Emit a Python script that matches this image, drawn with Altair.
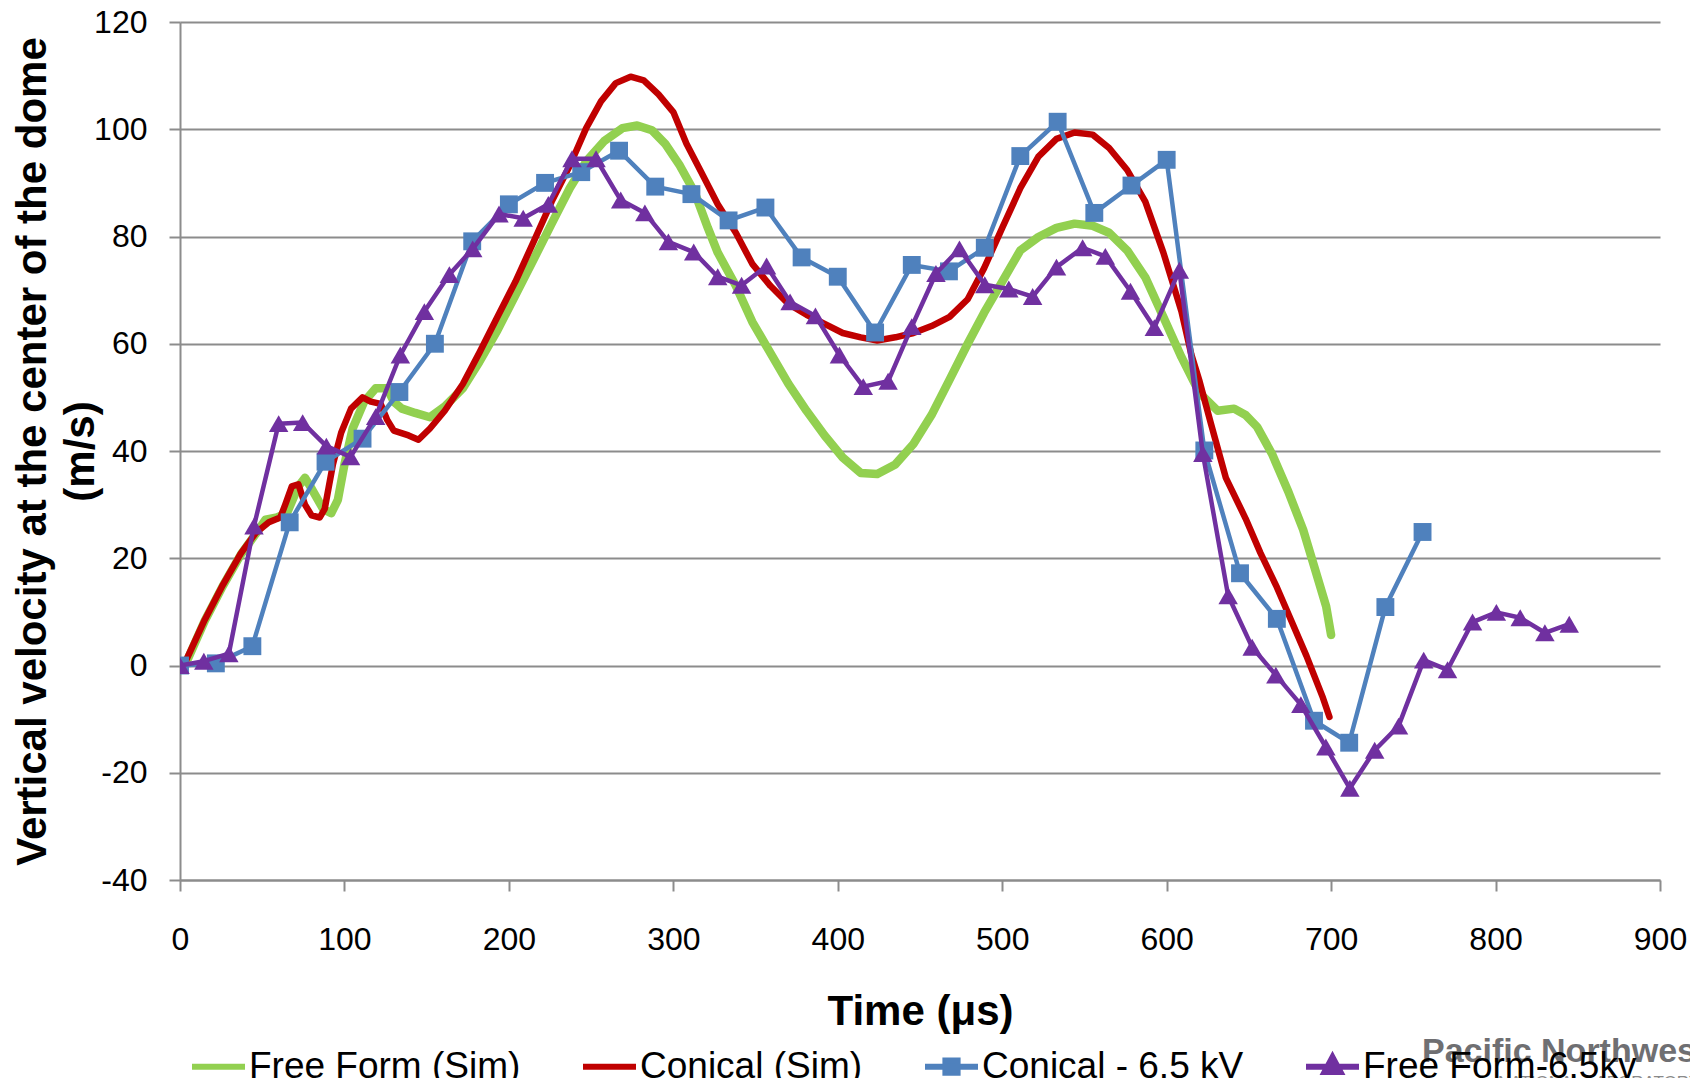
import altair as alt
import pandas as pd

# ---------------- data ----------------
series_names = ["Free Form (Sim)", "Conical (Sim)", "Conical - 6.5 kV", "Free Form-6.5kv"]
series_colors = ["#92D050", "#C00000", "#4F81BD", "#7030A0"]

ff_sim_t = [3, 15, 26, 37, 46, 52, 59, 65, 72, 76, 80, 87, 92, 96, 100, 105, 112, 119, 126, 130,
            135, 143, 152, 161, 172, 182, 193, 204, 215, 226, 237, 247, 258, 269, 278, 287, 295, 304, 313, 321,
            327, 338, 348, 359, 370, 381, 392, 403, 414, 424, 435, 446, 457, 468, 479, 489, 500, 511, 522, 533,
            544, 555, 565, 576, 587, 598, 609, 620, 631, 641, 648, 655, 664, 674, 683, 690, 697, 700]
ff_sim_v = [0, 8.3, 14.8, 20.7, 24.5, 27.2, 27.6, 28.4, 33.4, 35, 33, 29.2, 28.4, 30.9, 37.5, 44.2, 49.2, 51.7, 51.7, 49.2,
            47.9, 47.1, 46.3, 48.3, 51.7, 56.6, 62.5, 69.1, 75.7, 82.4, 89, 94, 97.8, 100.2, 100.7, 99.8, 97.3, 93.2, 88.2, 81.6,
            77, 70.8, 64.1, 58.3, 52.5, 47.5, 42.9, 38.8, 35.9, 35.7, 37.5, 41.3, 46.7, 53.3, 60, 65.8, 71.6, 77.4, 79.9, 81.6,
            82.4, 82, 80.7, 77.4, 72.4, 65, 57.5, 50.8, 47.5, 47.9, 46.7, 44.5, 39.5, 32.4, 25.3, 18.2, 11, 5.7]

con_sim_t = [3, 15, 26, 37, 46, 54, 61, 64, 68, 72, 76, 80, 85, 88, 93, 98, 104, 111, 116, 122,
             126, 130, 139, 145, 152, 161, 172, 182, 193, 204, 215, 226, 237, 247, 256, 265, 274, 282, 291, 300,
             308, 317, 327, 338, 348, 359, 370, 381, 392, 403, 414, 424, 435, 446, 457, 468, 479, 489, 500, 511,
             522, 533, 544, 555, 565, 576, 587, 598, 603, 609, 615, 620, 627, 636, 648, 657, 667, 676, 685, 695, 699]
con_sim_v = [0.5, 8.5, 15, 20.9, 24.7, 26.7, 27.6, 30, 33.4, 33.8, 30, 28, 27.6, 29.2, 37.5, 43.4, 47.9, 50, 49.2, 48.8,
             45.8, 43.8, 42.9, 42.1, 44.2, 47.5, 52.5, 58.3, 65, 71.6, 79, 86.5, 93.2, 100.2, 105.2, 108.6, 109.8, 109.1, 106.5, 103.2,
             97.3, 92, 86, 80.7, 74.9, 70.8, 67.4, 65.4, 63.7, 62, 61.2, 60.6, 61.2, 62, 63.3, 65, 68.3, 74.1, 81.6, 89,
             94.9, 98.2, 99.4, 99, 96.5, 92.4, 86.5, 77, 72, 66, 58, 53, 45, 35, 27.4, 21, 14.6, 8.2, 1.8, -6, -9.6]

con_exp_t = [0, 21.8, 44, 66.7, 88.5, 111, 133.4, 155, 177.7, 200, 222, 244, 267, 289, 311, 333.6, 356, 378, 400, 422.7,
             445, 467.6, 489.4, 511, 533.7, 556, 578.6, 600, 622.9, 644.6, 667, 689.6, 711, 733, 755.6]
con_exp_v = [0, 0.4, 3.6, 26.7, 38, 42.3, 51, 60, 79.1, 86, 90, 92, 96, 89.3, 87.9, 83, 85.4, 76.1, 72.5, 62.1,
             74.7, 73.5, 77.9, 95, 101.4, 84.4, 89.5, 94.3, 40.1, 17.2, 8.7, -10.3, -14.4, 10.9, 24.9]

ff_exp_t = [0, 14.5, 29.7, 45, 60, 74.6, 89, 103.7, 119, 134, 148.6, 163.8, 178, 194, 208.7, 224, 238.4, 253, 268, 282.7,
            297, 312.4, 327, 341.5, 356.7, 371, 386.4, 401, 415.5, 430.6, 445, 459.7, 474, 489.4, 504, 518.5, 533, 548.9, 562.7, 578,
            592.5, 607.7, 622, 637.4, 652, 666.4, 681.6, 696.8, 711.4, 726.5, 741, 756.3, 770.8, 786, 800.5, 815, 830, 844.8]
ff_exp_v = [0, 0.8, 2.2, 26, 45.1, 45.3, 40.9, 38.9, 46.4, 57.9, 66, 72.9, 77.7, 84.2, 83.4, 86, 94.5, 94.5, 86.8, 84.4,
            79, 77.1, 72.5, 70.9, 74.5, 67.8, 65.2, 57.9, 52, 53, 63.2, 73.1, 77.7, 71, 70.2, 68.8, 74.3, 77.9, 76.3, 69.8,
            63, 73.7, 39.5, 13, 3.4, -1.8, -7.3, -15.2, -22.9, -15.8, -11.3, 1, -0.8, 8.1, 9.9, 8.9, 6.1, 7.7]

x_ticks = list(range(0, 901, 100))
y_ticks = list(range(-40, 121, 20))
x_title = "Time (μs)"
y_title = ["Vertical velocity at the center of the dome", "(m/s)"]
logo_main = ["Pacific Northwest"]
logo_sub = ["NATIONAL LABORATORY"]

# ---------------- build ----------------
def frame(name, t, v):
    assert len(t) == len(v)
    return pd.DataFrame({"t": t, "v": v, "series": name})

df_ff_sim = frame(series_names[0], ff_sim_t, ff_sim_v)
df_con_sim = frame(series_names[1], con_sim_t, con_sim_v)
df_con_exp = frame(series_names[2], con_exp_t, con_exp_v)
df_ff_exp = frame(series_names[3], ff_exp_t, ff_exp_v)

FONT = "Liberation Sans"
GRID = "#8c8c8c"
W, H = 1480, 858

X = alt.X("t:Q", scale=alt.Scale(domain=[0, 900], nice=False, zero=False),
          axis=alt.Axis(values=x_ticks, grid=False, tickSize=11, tickWidth=2, tickColor=GRID,
                        domainColor=GRID, domainWidth=2, labelFont=FONT, labelFontSize=32,
                        labelColor="black", labelPadding=33, labelFlush=False, labelOverlap=False,
                        labelExpr="'' + datum.value",
                        title=x_title, titleFont=FONT, titleFontSize=42, titleFontWeight="bold",
                        titleColor="black", titleX=W / 2, titleY=144, titleAlign="center",
                        titleBaseline="alphabetic"))
Y = alt.Y("v:Q", scale=alt.Scale(domain=[-40, 120], nice=False, zero=False),
          axis=alt.Axis(values=y_ticks, grid=True, gridColor=GRID, gridWidth=2, tickSize=11,
                        tickWidth=2, tickColor=GRID, domainColor=GRID, domainWidth=2,
                        labelFont=FONT, labelFontSize=32, labelColor="black", labelPadding=22,
                        labelFlush=False, labelOverlap=False, labelExpr="'' + datum.value",
                        title=y_title, titleFont=FONT, titleFontSize=42, titleFontWeight="bold",
                        titleColor="black", titleAngle=270, titleX=-135, titleY=H / 2,
                        titleAlign="center", titleBaseline="alphabetic", titleLineHeight=48))

def line(df, color, width):
    return alt.Chart(df).mark_line(color=color, strokeWidth=width, strokeJoin="round",
                                   strokeCap="round", clip=True).encode(x=X, y=Y, order="t:Q")

def pts(df, color, shape, size):
    return alt.Chart(df).mark_point(color=color, shape=shape, size=size, filled=True,
                                    opacity=1, clip=True).encode(x=X, y=Y)

legend_paths = ["M-1,0H1", "M-1,0H1",
                "M-1,0H1M-0.23,-0.23H0.23V0.23H-0.23Z",
                "M-1,0H1M0,-0.36L0.3,0.2H-0.3Z"]
legend_df = pd.DataFrame({"t": [-100] * 4, "v": [0] * 4, "series": series_names})
leg = alt.Legend(orient="none", legendX=9, legendY=1015, direction="horizontal", title=None,
                 labelFont=FONT, labelFontSize=37, labelColor="black", symbolSize=2809,
                 symbolStrokeWidth=6, labelOffset=1, columnPadding=50, padding=0, offset=0,
                 columns=4, labelLimit=0, symbolOpacity=1)
legend_layer = alt.Chart(legend_df).mark_point(filled=True, opacity=1, clip=True).encode(
    x=X, y=Y,
    fill=alt.Fill("series:N", scale=alt.Scale(domain=series_names, range=series_colors), legend=leg),
    stroke=alt.Stroke("series:N", scale=alt.Scale(domain=series_names, range=series_colors), legend=leg),
    shape=alt.Shape("series:N", scale=alt.Scale(domain=series_names, range=legend_paths), legend=leg),
)

logo1 = alt.Chart(pd.DataFrame({"label": logo_main})).mark_text(
    font=FONT, fontSize=34, fontWeight="bold", color="#6f6f72", align="left", baseline="alphabetic"
).encode(x=alt.value(1242), y=alt.value(1040), text="label:N")
logo2 = alt.Chart(pd.DataFrame({"label": logo_sub})).mark_text(
    font=FONT, fontSize=17, color="#8a8a8a", align="left", baseline="top"
).encode(x=alt.value(1318), y=alt.value(1053), text="label:N")

chart = alt.layer(
    line(df_ff_sim, series_colors[0], 8.5),
    line(df_con_sim, series_colors[1], 6.5),
    line(df_con_exp, series_colors[2], 4.5),
    pts(df_con_exp, series_colors[2], "square", 320),
    line(df_ff_exp, series_colors[3], 4.5),
    pts(df_ff_exp, series_colors[3], "triangle-up", 380),
    logo1, logo2,
    legend_layer,
).properties(
    width=W, height=H,
    padding={"left": 172, "top": 14, "right": 30, "bottom": 198},
    autosize=alt.AutoSizeParams(type="none"),
    background="white",
).configure_view(stroke=None)

chart.save("out.html", embed_options={"renderer": "svg", "actions": False})
